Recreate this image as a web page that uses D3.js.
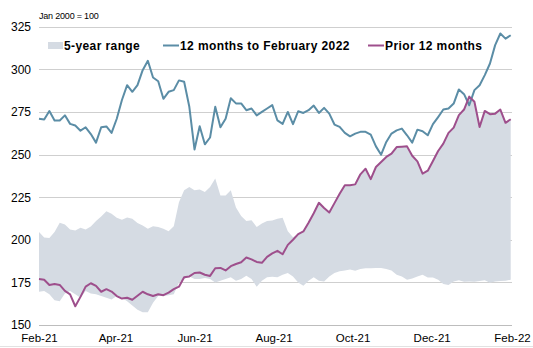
<!DOCTYPE html>
<meta charset="utf-8">
<script src="https://d3js.org/d3.v7.min.js"></script>
<style>
  body { margin: 0; background: #fff; }
  text { font-family: "Liberation Sans", Arial, sans-serif; }
</style>
<body>
<div id="chart"></div>
<script>

// index values (Jan 2000 = 100), one reading every 4 days from 1 Feb 2021
var startDate = new Date(2021, 1, 1);
var stepDays = 4;

var lastYear = [
  271, 270.5, 275.5, 270, 270, 273, 268, 267, 264, 266,
  262, 257, 266, 266.5, 262.7, 271, 282, 290.7, 286.8, 290.7,
  299.5, 305, 295.2, 293, 282.7, 286.8, 287.8, 293.5, 292.7, 278,
  253, 266.6, 256, 260, 278, 266, 271, 283, 280, 280,
  276, 277, 273, 275, 277, 279, 270, 268, 275, 267.8,
  275.4, 274.4, 276, 278.7, 274.4, 277.4, 274, 267.6, 266.2, 262.7,
  260.7, 262.3, 263.3, 263.3, 261.7, 254.8, 249.9, 257.4, 262.3, 264.2,
  265.2, 261.3, 257, 264.6, 263.7, 261.3, 267.8, 272, 276.4, 277,
  279.9, 288.2, 285.4, 278.9, 287.8, 290.7, 296.6, 303.4, 314.2, 321,
  318, 320
];

var priorYear = [
  177, 176.5, 173.5, 174, 173.5, 170, 168, 161, 166.5, 172.5,
  174.5, 173, 169.5, 171, 169.6, 167, 165.5, 166, 164.8, 167.2,
  169.5, 168, 167, 168, 167.5, 169, 171, 172.5, 178, 178.5,
  180.5, 180.8, 179.5, 178.8, 183.3, 183.5, 182, 184.5, 185.8, 186.8,
  189.6, 188.5, 187, 186.5, 190, 192, 193.5, 191.5, 197, 200,
  203.3, 204.9, 210, 215.6, 221.7, 218.6, 216, 221.5, 227, 232,
  232, 232.5, 238.4, 241.7, 235.6, 242.7, 245.6, 248.6, 250.5, 254.4,
  254.6, 254.8, 249.3, 246, 238.8, 240.5, 246.2, 252.1, 256.4, 262.7,
  265.8, 273.1, 276.4, 284, 281, 266.2, 275.6, 273.7, 274, 276.4,
  268.6, 270.7
];

var rangeHigh = [
  204.5, 201.3, 201.1, 204.5, 210, 209, 206, 205.4, 207, 206,
  207.8, 211, 213.7, 216.8, 215.2, 212.9, 211.7, 213, 212.3, 209.8,
  208.4, 206.4, 208, 207.5, 206.5, 205, 208, 222, 229, 231,
  229, 229.5, 228, 231, 236, 226, 226, 229, 219, 214,
  211, 211.5, 207.5, 209.5, 211, 211.3, 212.3, 212.9, 205, 201.5,
  203.3, 204.9, 210, 215.6, 221.7, 218.6, 216, 221.5, 227, 232,
  232, 232.5, 238.4, 241.7, 235.6, 242.7, 245.6, 248.6, 250.5, 254.4,
  254.6, 254.8, 249.3, 246, 238.8, 240.5, 246.2, 252.1, 256.4, 262.7,
  265.8, 273.1, 276.4, 284, 281, 266.2, 275.6, 273.7, 274, 276.4,
  268.6, 270.7
];

var rangeLow = [
  169.5, 170, 168, 164.5, 164, 168.5, 170, 168, 166, 170,
  168.5, 168, 167, 166, 165, 167, 166, 164, 161.5, 159,
  157.5, 157.5, 163, 167, 167, 167.5, 168, 175, 177, 178.5,
  177, 177, 177.5, 177, 175, 176, 177, 178, 176, 177,
  178.9, 177, 172.5, 176, 178, 178.3, 178, 179.5, 180.5, 178.5,
  175, 173, 176, 178, 176, 175.5, 178.5, 180.5, 181.5, 182,
  182.5, 181.8, 182.8, 183.3, 183.3, 183.5, 183.5, 182.8, 182, 179.5,
  178.5, 176.5, 177.3, 178.5, 179.5, 177.9, 177.9, 176.5, 174, 173.5,
  175.5, 176.3, 175.3, 175.5, 175.3, 175.8, 176.3, 174.8, 175.5, 175.8,
  176, 176.6
];

var yTicks = [150, 175, 200, 225, 250, 275, 300, 325];
var xTicks = [
  new Date(2021, 1, 1), new Date(2021, 3, 1), new Date(2021, 5, 1),
  new Date(2021, 7, 1), new Date(2021, 9, 1), new Date(2021, 11, 1),
  new Date(2022, 1, 1)
];
var legendItems = ["5-year range", "12 months to February 2022", "Prior 12 months"];

var W = 533, H = 348;
var plot = { left: 39, right: 512, top: 26.7, bottom: 325 };

var svg = d3.select("#chart").append("svg")
  .attr("width", W)
  .attr("height", H);

var x = d3.scaleTime()
  .domain([startDate, new Date(2022, 1, 1)])
  .range([plot.left, plot.right]);

var y = d3.scaleLinear()
  .domain([150, 325])
  .range([plot.bottom, plot.top]);

var data = lastYear.map(function(v, i) {
  return {
    date: d3.timeDay.offset(startDate, i * stepDays),
    last: v,
    prior: priorYear[i],
    hi: rangeHigh[i],
    lo: rangeLow[i]
  };
});

// horizontal gridlines
svg.append("g")
  .selectAll("line")
  .data(yTicks)
  .enter().append("line")
    .attr("x1", plot.left)
    .attr("x2", plot.right)
    .attr("y1", function(d) { return Math.round(y(d)) + 0.5; })
    .attr("y2", function(d) { return Math.round(y(d)) + 0.5; })
    .attr("stroke", function(d) { return d == 150 ? "#bdbdbd" : "#cfcfcf"; })
    .attr("stroke-width", 1);

// y labels
var yAxis = svg.append("g")
  .attr("transform", "translate(" + (plot.left - 8) + ",0)")
  .call(d3.axisLeft(y).tickValues(yTicks).tickSize(0).tickPadding(0));
yAxis.select(".domain").remove();
yAxis.selectAll("text")
  .style("font-size", "12px")
  .style("font-family", "'Liberation Sans', Arial, sans-serif")
  .attr("fill", "#000");

// x labels
var xAxis = svg.append("g")
  .attr("transform", "translate(0," + plot.bottom + ")")
  .call(d3.axisBottom(x)
    .tickValues(xTicks)
    .tickFormat(d3.timeFormat("%b-%y"))
    .tickSize(0)
    .tickPadding(9));
xAxis.select(".domain").remove();
xAxis.selectAll("text")
  .style("font-size", "11.5px")
  .style("font-family", "'Liberation Sans', Arial, sans-serif")
  .attr("fill", "#000");

// 5-year range band
svg.append("path")
  .datum(data)
  .attr("fill", "#d5dbe3")
  .attr("d", d3.area()
    .x(function(d) { return x(d.date); })
    .y0(function(d) { return y(d.lo); })
    .y1(function(d) { return y(d.hi); }));

svg.append("path")
  .datum(data)
  .attr("fill", "none")
  .attr("stroke", "#5b8da6")
  .attr("stroke-width", 2)
  .attr("stroke-linejoin", "round")
  .attr("d", d3.line()
    .x(function(d) { return x(d.date); })
    .y(function(d) { return y(d.last); }));

svg.append("path")
  .datum(data)
  .attr("fill", "none")
  .attr("stroke", "#9e4f8c")
  .attr("stroke-width", 2)
  .attr("stroke-linejoin", "round")
  .attr("d", d3.line()
    .x(function(d) { return x(d.date); })
    .y(function(d) { return y(d.prior); }));

// units note
svg.append("text")
  .attr("x", 39)
  .attr("y", 19)
  .style("font-size", "9px")
  .style("letter-spacing", "-0.2px")
  .text("Jan 2000 = 100");

// legend
var legend = svg.append("g")
  .style("font-size", "12px")
  .style("font-weight", "bold")
  .style("letter-spacing", "0.4px");
legend.append("rect")
  .attr("x", 48).attr("y", 42).attr("width", 15).attr("height", 7)
  .attr("fill", "#d5dbe3");
legend.append("text").attr("x", 64).attr("y", 50).text(legendItems[0]);
legend.append("line")
  .attr("x1", 163).attr("x2", 179).attr("y1", 45.5).attr("y2", 45.5)
  .attr("stroke", "#5b8da6").attr("stroke-width", 2);
legend.append("text").attr("x", 180).attr("y", 50).text(legendItems[1]);
legend.append("line")
  .attr("x1", 368).attr("x2", 384).attr("y1", 45.5).attr("y2", 45.5)
  .attr("stroke", "#9e4f8c").attr("stroke-width", 2);
legend.append("text").attr("x", 385).attr("y", 50).text(legendItems[2]);

// bottom frame line
svg.append("line")
  .attr("x1", 0).attr("x2", W).attr("y1", 346.5).attr("y2", 346.5)
  .attr("stroke", "#e2e2e2");

</script>
</body>
